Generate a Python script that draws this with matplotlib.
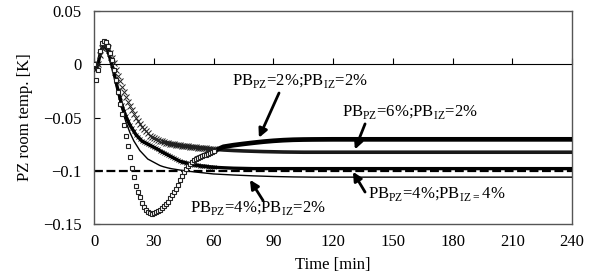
"""PZ room temperature response for four PB_PZ / PB_IZ settings."""
import matplotlib
matplotlib.use("Agg")
import matplotlib.pyplot as plt

plt.rcParams["font.family"] = ["Liberation Serif", "DejaVu Serif"]
plt.rcParams["mathtext.fontset"] = "custom"
plt.rcParams["mathtext.rm"] = "Liberation Serif"

# ----------------------------- data -------------------
time_min = list(range(0, 61)) + list(range(65, 111, 5)) + list(range(120, 241, 10))

# PB_PZ=2%; PB_IZ=2%  (open squares)
pz2_iz2 = [
    0.000, -0.015, -0.005, 0.012, 0.020, 0.022, 0.021, 0.017, 0.011, 0.004,
    -0.005, -0.015, -0.026, -0.037, -0.047, -0.057, -0.067, -0.077, -0.087, -0.097,
    -0.106, -0.114, -0.120, -0.125, -0.130, -0.134, -0.137, -0.139, -0.140, -0.1405,
    -0.140, -0.139, -0.138, -0.137, -0.135, -0.133, -0.131, -0.129, -0.126, -0.123,
    -0.120, -0.117, -0.113, -0.109, -0.105, -0.101, -0.098, -0.0955, -0.0935, -0.0915,
    -0.0900, -0.0890, -0.0880, -0.0872, -0.0864, -0.0856, -0.0848, -0.0840, -0.0832, -0.0824, -0.0816,
    -0.0775, -0.0760, -0.0748, -0.0737, -0.0727, -0.0719, -0.0713, -0.0709, -0.0707, -0.0706,
    -0.0705, -0.0705, -0.0705, -0.0705, -0.0705, -0.0705, -0.0705, -0.0705, -0.0705, -0.0705,
    -0.0705, -0.0705, -0.0705,
]
# PB_PZ=6%; PB_IZ=2%  (crosses)
pz6_iz2 = [
    0.000, -0.004, 0.000, 0.009, 0.015, 0.018, 0.017, 0.015, 0.011, 0.006,
    0.001, -0.005, -0.011, -0.016, -0.021, -0.026, -0.031, -0.035, -0.039, -0.043,
    -0.047, -0.050, -0.053, -0.056, -0.059, -0.061, -0.063, -0.065, -0.067, -0.068,
    -0.069, -0.070, -0.071, -0.072, -0.0725, -0.073, -0.0735, -0.074, -0.0745, -0.075,
    -0.0753, -0.0756, -0.0759, -0.0762, -0.0765, -0.0768, -0.0770, -0.0772, -0.0774, -0.0776,
    -0.0778, -0.0780, -0.0782, -0.0784, -0.0786, -0.0788, -0.0790, -0.0792, -0.0794, -0.0796, -0.0798,
    -0.0805, -0.0810, -0.0814, -0.0817, -0.0820, -0.0822, -0.0824, -0.0825, -0.0826, -0.0826,
    -0.0826, -0.0826, -0.0826, -0.0826, -0.0826, -0.0826, -0.0826, -0.0826, -0.0826, -0.0826,
    -0.0826, -0.0826, -0.0826,
]
# PB_PZ=4%; PB_IZ=4%  (thick line)
pz4_iz4 = [
    0.000, -0.004, 0.000, 0.009, 0.015, 0.017, 0.016, 0.012, 0.006, -0.001,
    -0.008, -0.016, -0.024, -0.031, -0.038, -0.044, -0.049, -0.053, -0.057, -0.060,
    -0.063, -0.066, -0.068, -0.070, -0.072, -0.073, -0.074, -0.075, -0.076, -0.077,
    -0.078, -0.079, -0.080, -0.081, -0.082, -0.083, -0.084, -0.085, -0.086, -0.087,
    -0.088, -0.089, -0.090, -0.091, -0.0915, -0.092, -0.0925, -0.093, -0.0935, -0.094,
    -0.0943, -0.0946, -0.0949, -0.0952, -0.0955, -0.0957, -0.0959, -0.0961, -0.0963, -0.0965, -0.0967,
    -0.0972, -0.0976, -0.0978, -0.0980, -0.0980, -0.0980, -0.0980, -0.0980, -0.0980, -0.0980,
    -0.0980, -0.0980, -0.0980, -0.0980, -0.0980, -0.0980, -0.0980, -0.0980, -0.0980, -0.0980,
    -0.0980, -0.0980, -0.0980,
]
# PB_PZ=4%; PB_IZ=2%  (thin line)
pz4_iz2 = [
    0.000, -0.004, 0.000, 0.009, 0.015, 0.017, 0.016, 0.012, 0.006, -0.001,
    -0.009, -0.018, -0.027, -0.035, -0.042, -0.048, -0.054, -0.059, -0.064, -0.068,
    -0.072, -0.075, -0.078, -0.081, -0.083, -0.085, -0.087, -0.089, -0.090, -0.091,
    -0.092, -0.093, -0.094, -0.095, -0.0957, -0.0963, -0.0968, -0.0973, -0.0977, -0.0981,
    -0.0984, -0.0987, -0.0990, -0.0993, -0.0996, -0.0999, -0.1002, -0.1004, -0.1006, -0.1008,
    -0.1010, -0.1012, -0.1014, -0.1016, -0.1018, -0.1020, -0.1022, -0.1024, -0.1026, -0.1028, -0.1030,
    -0.1035, -0.1040, -0.1044, -0.1048, -0.1051, -0.1054, -0.1056, -0.1058, -0.1059, -0.1060,
    -0.1060, -0.1060, -0.1060, -0.1060, -0.1060, -0.1060, -0.1060, -0.1060, -0.1060, -0.1060,
    -0.1060, -0.1060, -0.1060,
]
target = -0.1

x_ticks = [0, 30, 60, 90, 120, 150, 180, 210, 240]
y_ticks = [-0.15, -0.1, -0.05, 0, 0.05]
y_tick_labels = ["\u22120.15", "\u22120.1", "\u22120.05", "0", "0.05"]

labels = {
    "pz2_iz2": r"PB$_{\mathrm{PZ}}$=2%;PB$_{\mathrm{IZ}}$=2%",
    "pz6_iz2": r"PB$_{\mathrm{PZ}}$=6%;PB$_{\mathrm{IZ}}$=2%",
    "pz4_iz4": r"PB$_{\mathrm{PZ}}$=4%;PB$_{\mathrm{IZ=}}$4%",
    "pz4_iz2": r"PB$_{\mathrm{PZ}}$=4%;PB$_{\mathrm{IZ}}$=2%",
}
# (text anchor, arrow tail, arrow head) in data coords
callouts = {
    "pz2_iz2": ((69.3, -0.016), (92.9, -0.027), (82.8, -0.069)),
    "pz6_iz2": ((124.5, -0.045), (136.1, -0.056), (131.0, -0.080)),
    "pz4_iz4": ((137.6, -0.122), (136.1, -0.120), (130.0, -0.101)),
    "pz4_iz2": ((48.2, -0.135), (84.9, -0.128), (78.3, -0.1085)),
}

# ----------------------------- figure ---------------------------------------
fig = plt.figure(figsize=(6.03, 2.77), dpi=100)
ax = fig.add_axes([94 / 603, 1 - 224 / 277, 478 / 603, 213 / 277])

ax.axhline(target, color="k", lw=1.6, ls=(0, (4, 1.6)), zorder=2)

ax.plot(time_min, pz4_iz2, color="k", lw=1.0, zorder=3)

# markers only on the 1-minute part; the settled tails are drawn as bands
early = slice(0, time_min.index(60) + 1)

ax.plot(time_min, pz4_iz4, color="k", lw=2.4, marker="x", ms=2.8, mew=0.6,
        markevery=early, zorder=3)

i35 = time_min.index(35)
ax.plot(time_min[i35:], pz6_iz2[i35:], color="#1a1a1a", lw=2.6, zorder=3)
ax.plot(time_min, pz6_iz2, ls="none", marker="x", ms=3.8, mew=0.7,
        color="#222222", markevery=early, zorder=4)

i52 = time_min.index(52)
ax.plot(time_min[i52:], pz2_iz2[i52:], color="k", lw=3.4, zorder=3)
ax.plot(time_min, pz2_iz2, ls="none", marker="s", ms=3.2, mew=0.8,
        mfc="white", mec="#222222", markevery=early, zorder=4)

for key, (txt, tail, head) in callouts.items():
    ax.text(txt[0], txt[1], labels[key], fontsize=12, va="center", ha="left")
    ax.annotate("", xy=head, xytext=tail,
                arrowprops=dict(arrowstyle="-|>", color="k", lw=2.0,
                                mutation_scale=13, shrinkA=0, shrinkB=0))

ax.set_xlim(0, 240)
ax.set_ylim(-0.15, 0.05)
ax.set_xticks(x_ticks)
ax.set_yticks(y_ticks)
ax.set_yticklabels(y_tick_labels)
ax.tick_params(axis="x", length=0, pad=7, labelsize=12)
ax.tick_params(axis="y", direction="in", length=4, pad=9, labelsize=12)
for sp in ax.spines.values():
    sp.set_color("#555555")
    sp.set_linewidth(1.0)

# zero line with upward ticks
zero_axis = ax.secondary_xaxis(0.75)
zero_axis.set_xticks(x_ticks)
zero_axis.tick_params(direction="out", length=4, labeltop=False, labelbottom=False)
zero_axis.spines["top"].set_color("k")

ax.set_xlabel("Time [min]", fontsize=12, labelpad=5)
ax.set_ylabel("PZ room temp. [K]", fontsize=12, labelpad=7)

fig.savefig("out.png", dpi=100)
